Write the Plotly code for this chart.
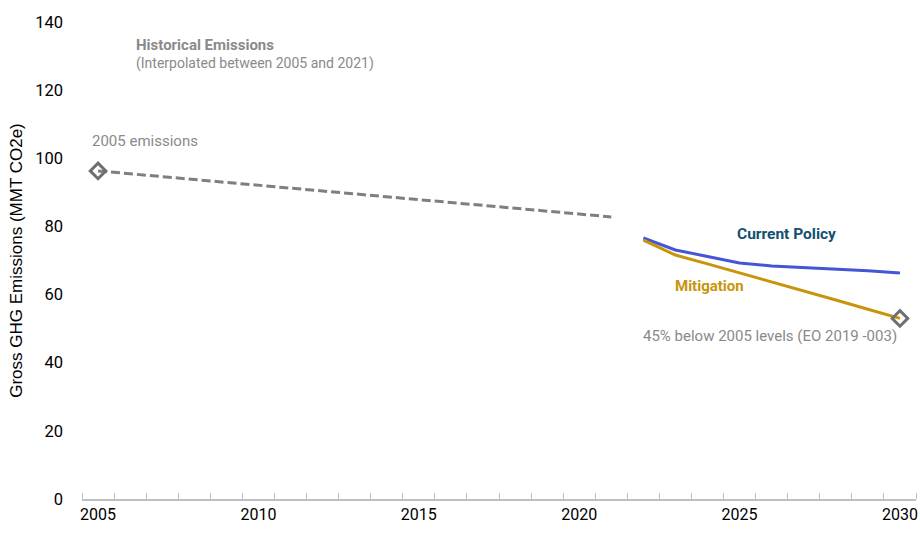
import plotly.graph_objects as go

# Historical emissions (interpolated between the two inventory years)
hist_years = [2005, 2021]
hist_values = [96.3, 82.8]

# Projections
proj_years = [2022, 2023, 2024, 2025, 2026, 2027, 2028, 2029, 2030]
current_policy = [76.6, 73.1, 71.2, 69.3, 68.4, 68.0, 67.6, 67.0, 66.3]
mitigation = [76.0, 71.6, 69.0, 66.4, 63.7, 61.0, 58.4, 55.7, 53.0]

# Reference points: 2005 baseline and the 2030 target (45% below 2005)
ref_years = [2005, 2030]
ref_values = [96.3, 53.0]

x_ticks = [2005, 2010, 2015, 2020, 2025, 2030]
y_ticks = [0, 20, 40, 60, 80, 100, 120, 140]

GRAY = "#8a8a8a"
FONT = "Roboto"

fig = go.Figure()

fig.add_trace(go.Scatter(
    x=hist_years, y=hist_values, mode="lines",
    line=dict(color="#7f7f7f", width=3, dash="9px,4px"),
    showlegend=False, hoverinfo="skip"))

fig.add_trace(go.Scatter(
    x=proj_years, y=current_policy, mode="lines",
    line=dict(color="#4556d4", width=3),
    showlegend=False))

fig.add_trace(go.Scatter(
    x=proj_years, y=mitigation, mode="lines",
    line=dict(color="#c8940a", width=3),
    showlegend=False))

fig.add_trace(go.Scatter(
    x=ref_years, y=ref_values, mode="markers",
    marker=dict(symbol="diamond-open", size=12, color="#6f6f6f",
                line=dict(width=3, color="#6f6f6f")),
    showlegend=False))

annotations = [
    dict(x=2006.12, y=133.3, text="<b>Historical Emissions</b>",
         font=dict(size=15, color=GRAY)),
    dict(x=2006.12, y=127.7, text="(Interpolated between 2005 and 2021)",
         font=dict(size=14, color=GRAY)),
    dict(x=2004.75, y=105.1, text="2005 emissions",
         font=dict(size=15, color=GRAY)),
    dict(x=2024.87, y=77.8, text="<b>Current Policy</b>",
         font=dict(size=15.5, color="#12506f")),
    dict(x=2022.91, y=62.5, text="<b>Mitigation</b>",
         font=dict(size=15, color="#c8940a")),
    dict(x=2021.92, y=47.8, text="45% below 2005 levels (EO 2019 -003)",
         font=dict(size=15, color=GRAY)),
]
for a in annotations:
    a.update(xref="x", yref="y", showarrow=False, xanchor="left", yanchor="middle")

fig.update_layout(
    width=920, height=533,
    margin=dict(l=82, r=2, t=22, b=34),
    paper_bgcolor="white", plot_bgcolor="white",
    font=dict(family=FONT, size=16, color="#000000"),
    annotations=annotations,
    showlegend=False,
)

fig.update_xaxes(
    range=[2004.5, 2030.5],
    tickvals=x_ticks, ticktext=[str(v) for v in x_ticks],
    ticks="", showgrid=False, zeroline=False,
    showline=True, linecolor="#bfbfbf", linewidth=1.5,
    tickfont=dict(size=16, family=FONT),
    minor=dict(tick0=2004.5, dtick=1, ticks="inside", ticklen=6,
               tickcolor="#bfbfbf", tickwidth=1, showgrid=False),
)

fig.update_yaxes(
    range=[0, 140], tickvals=y_ticks,
    showgrid=False, zeroline=False, showline=False,
    ticks="", ticklabelstandoff=18,
    tickfont=dict(size=16.5, family=FONT),
    title=dict(text="Gross GHG Emissions (MMT CO2e)",
               font=dict(size=17, family="Liberation Sans"),
               standoff=8),
)

fig.write_html("out.html")
